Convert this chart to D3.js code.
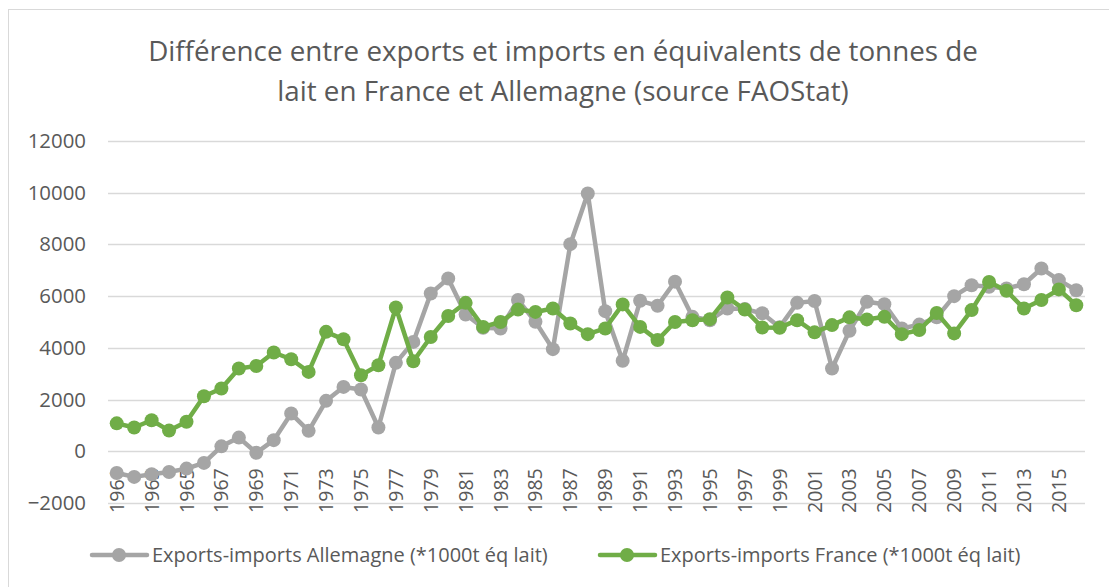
<!DOCTYPE html>
<html>
<head>
<meta charset="utf-8">
<script src="https://cdn.jsdelivr.net/npm/d3@7"></script>
<style>
  body { margin: 0; background: #fff; }
  text { font-family: "Open Sans", sans-serif; fill: #595959; }
</style>
</head>
<body>
<div id="container"></div>
<script>
// years 1961 -> 2016
let years = d3.range(1961, 2017)
let yTicks = [-2000, 0, 2000, 4000, 6000, 8000, 10000, 12000]

let allemagne = [
  -840, -990, -890, -800, -670, -450, 190, 530, -60, 430,
  1460, 790, 1950, 2490, 2390, 920, 3420, 4230, 6100, 6680,
  5290, 4780, 4750, 5850, 5010, 3950, 8010, 9970, 5420, 3500,
  5820, 5630, 6560, 5200, 5070, 5520, 5500, 5340, 4800, 5740,
  5810, 3200, 4660, 5780, 5690, 4750, 4900, 5180, 6000, 6420,
  6360, 6300, 6460, 7070, 6620, 6230
]
let france = [
  1080, 920, 1200, 800, 1140, 2130, 2430, 3200, 3300, 3820,
  3560, 3070, 4620, 4330, 2940, 3330, 5560, 3480, 4420, 5230,
  5740, 4810, 5000, 5480, 5390, 5520, 4940, 4530, 4750, 5680,
  4810, 4300, 5000, 5070, 5110, 5950, 5480, 4790, 4780, 5070,
  4600, 4880, 5180, 5100, 5200, 4530, 4690, 5350, 4560, 5460,
  6550, 6210, 5520, 5850, 6260, 5650
]

let seriesNames = ["Exports-imports Allemagne (*1000t éq lait)", "Exports-imports France (*1000t éq lait)"]
let colors = ["#A5A5A5", "#70AD47"]
let titleLines = ["Différence entre exports et imports en équivalents de tonnes de",
                  "lait en France et Allemagne (source FAOStat)"]

let width = 1109
let height = 587
let plot = {left: 108, right: 1085, top: 141, bottom: 503}

let svg = d3.select('#container').append('svg')
  .attr('width', width)
  .attr('height', height)

// outer chart border
svg.append('rect')
  .attr('x', 8.5).attr('y', 9.5)
  .attr('width', 1110).attr('height', 600)
  .attr('fill', 'none')
  .attr('stroke', '#d9d9d9')

const xScale = d3.scaleBand()
  .domain(years)
  .range([plot.left, plot.right])

const yScale = d3.scaleLinear()
  .domain([-2000, 12000])
  .range([plot.bottom, plot.top])

// gridlines
svg.append('g')
  .selectAll('line')
  .data(yTicks)
  .enter()
  .append('line')
  .attr('x1', plot.left).attr('x2', plot.right)
  .attr('y1', d => Math.round(yScale(d)) + 0.5)
  .attr('y2', d => Math.round(yScale(d)) + 0.5)
  .attr('stroke', '#d9d9d9')
  .attr('stroke-width', 1.3)

// y axis labels
const yAxis = d3.axisLeft(yScale)
  .tickValues(yTicks)
  .tickSize(0)
  .tickPadding(22)
  .tickFormat(d3.format('d'))

let gy = svg.append('g')
  .attr('transform', `translate(${plot.left},0)`)
  .call(yAxis)
gy.select('.domain').remove()
gy.selectAll('text')
  .style('font-family', '"Open Sans", sans-serif')
  .style('font-size', '20.4px')
  .attr('fill', '#595959')

// x axis labels, every second year, axis crosses at 0
const xAxis = d3.axisBottom(xScale)
  .tickValues(years.filter((d, i) => i % 2 == 0))
  .tickSize(0)
  .tickPadding(0)

let gx = svg.append('g')
  .attr('transform', `translate(0,${yScale(0)})`)
  .call(xAxis)
gx.select('.domain').remove()
gx.selectAll('text')
  .style('font-family', '"Open Sans", sans-serif')
  .style('font-size', '19.5px')
  .attr('fill', '#595959')
  .attr('text-anchor', 'end')
  .attr('dy', null)
  .attr('y', 0)
  .attr('transform', 'translate(7,17) rotate(-90)')

// series
let line = d3.line()
  .x((d, i) => xScale(years[i]) + xScale.bandwidth() / 2)
  .y(d => yScale(d))

let allSeries = [allemagne, france]
allSeries.forEach(function(values, k) {
  let g = svg.append('g')
  g.append('path')
    .datum(values)
    .attr('d', line)
    .attr('fill', 'none')
    .attr('stroke', colors[k])
    .attr('stroke-width', 4.5)
    .attr('stroke-linejoin', 'round')
  g.selectAll('circle')
    .data(values)
    .enter()
    .append('circle')
    .attr('cx', (d, i) => xScale(years[i]) + xScale.bandwidth() / 2)
    .attr('cy', d => yScale(d))
    .attr('r', 7)
    .attr('fill', colors[k])
})

// title, fitted to the reference width
let title = svg.append('g')
let t1 = title.append('text')
  .attr('x', 563).attr('y', 61)
  .attr('text-anchor', 'middle')
  .style('font-size', '26px')
  .text(titleLines[0])
let w1 = t1.node().getComputedTextLength()
let titleSize = 26 * 830 / w1
t1.style('font-size', titleSize + 'px')
title.append('text')
  .attr('x', 563).attr('y', 101)
  .attr('text-anchor', 'middle')
  .style('font-size', titleSize + 'px')
  .text(titleLines[1])

// legend
let legendY = 555
let legendX = [92, 600]
let legendSize = 18
seriesNames.forEach(function(name, k) {
  let g = svg.append('g').attr('transform', `translate(${legendX[k]},${legendY})`)
  g.append('line')
    .attr('x1', 0).attr('x2', 55)
    .attr('stroke', colors[k])
    .attr('stroke-width', 4.5)
    .attr('stroke-linecap', 'round')
  g.append('circle')
    .attr('cx', 27).attr('r', 7)
    .attr('fill', colors[k])
  let t = g.append('text')
    .attr('x', 60).attr('dy', '0.35em')
    .style('font-size', '18px')
    .text(name)
  if (k == 0) {
    legendSize = 18 * 396 / t.node().getComputedTextLength()
  }
  t.style('font-size', legendSize + 'px')
})
</script>
</body>
</html>
